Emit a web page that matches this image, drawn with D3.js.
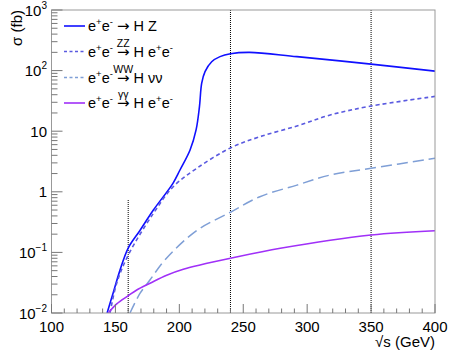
<!DOCTYPE html>
<html>
<head>
<meta charset="utf-8">
<script src="https://cdn.jsdelivr.net/npm/d3@7"></script>
<style>
body { margin: 0; background: #fff; }
text { font-family: "Liberation Sans", Arial, sans-serif; fill: #000; white-space: pre; }
</style>
</head>
<body>
<div id="chart"></div>
<script>
// cross sections (sqrt(s) in GeV, sigma in fb)
var hzE = [143.5, 148.4, 153.6, 160, 169.2, 179.7, 195, 200.5, 208.4, 213.1, 215.7, 217.5, 220.1, 225.3, 231.8, 240, 255, 292, 350, 400]
var hzS = [0.01, 0.022, 0.051, 0.118, 0.23, 0.50, 1.38, 2.29, 4.9, 10.5, 25, 62, 96, 140, 170, 190, 200, 170, 128, 98]
var zzE = [145.8, 151, 160, 179.7, 195, 213.6, 240, 263, 292, 318, 350, 400]
var zzS = [0.01, 0.031, 0.09, 0.44, 1.2, 2.44, 5.3, 8.1, 12.2, 18.5, 26, 37.5]
var wwE = [161.4, 169.2, 177, 188.7, 213.6, 240, 263, 292, 318, 350, 400]
var wwS = [0.01, 0.021, 0.035, 0.075, 0.23, 0.46, 0.83, 1.29, 1.89, 2.44, 3.57]
var aaE = [144.3, 151, 160.1, 166.7, 177.1, 190.1, 203.1, 216.2, 240, 279, 350, 400]
var aaS = [0.0099, 0.0141, 0.0193, 0.024, 0.031, 0.042, 0.0526, 0.062, 0.080, 0.117, 0.194, 0.228]

var markE = [160, 240, 350]
var markTop = [0.75, 1000, 1000]

var xTicks = [100, 150, 200, 250, 300, 350, 400]
var yTicks = [1000, 100, 10, 1, 0.1, 0.01]
var yLabels = [["10", "3"], ["10", "2"], ["10", ""], ["1", ""], ["10", "\u22121"], ["10", "\u22122"]]

var W = 452, H = 358
var x0 = 51.5, x1 = 435, yTop = 10, yBot = 313

var x = d3.scaleLinear().domain([100, 400]).range([x0, x1])
var y = d3.scaleLog().domain([0.01, 1000]).range([yBot, yTop])

var svg = d3.select("#chart").append("svg")
    .attr("width", W)
    .attr("height", H)

svg.append("clipPath").attr("id", "clip")
    .append("rect").attr("x", x0).attr("y", yTop).attr("width", x1 - x0).attr("height", yBot - yTop)

// vertical dotted markers
svg.selectAll(".mark").data(markE)
.enter().append("line")
.attr("class", "mark")
.attr("x1", function(d){return x(d)})
.attr("x2", function(d){return x(d)})
.attr("y1", y(0.01))
.attr("y2", function(d,i){return y(markTop[i])})
.attr("stroke", "#000")
.attr("stroke-width", 1)
.attr("stroke-dasharray", "1,1")

var series = [
    {e: hzE, s: hzS, color: "#1010ff", dash: null, w: 1.6},
    {e: zzE, s: zzS, color: "#5a5ae0", dash: "4,3", w: 1.6},
    {e: wwE, s: wwS, color: "#7f9fd6", dash: "11,5", w: 1.5},
    {e: aaE, s: aaS, color: "#a030f8", dash: null, w: 1.6}
]

var line = d3.line()
    .x(function(d){return x(d[0])})
    .y(function(d){return y(d[1])})
    .curve(d3.curveCatmullRom.alpha(0.5))

var plot = svg.append("g").attr("clip-path", "url(#clip)")
series.forEach(function(c){
    plot.append("path")
    .datum(c.e.map(function(v, i){return [v, c.s[i]]}))
    .attr("d", line)
    .attr("fill", "none")
    .attr("stroke", c.color)
    .attr("stroke-width", c.w)
    .attr("stroke-dasharray", c.dash)
})

// frame
svg.append("rect")
.attr("x", x0).attr("y", yTop).attr("width", x1 - x0).attr("height", yBot - yTop)
.attr("fill", "none").attr("stroke", "#999").attr("stroke-width", 1)

// x ticks (inside, pointing up)
var xMinor = d3.range(100, 401, 10)
svg.selectAll(".xt").data(xMinor)
.enter().append("line")
.attr("class", "xt")
.attr("x1", function(d){return x(d)}).attr("x2", function(d){return x(d)})
.attr("y1", yBot)
.attr("y2", function(d){return d % 50 == 0 ? yBot - 9 : yBot - 4.5})
.attr("stroke", "#777")

svg.selectAll(".xl").data(xTicks)
.enter().append("text")
.attr("class", "xl")
.attr("x", function(d){return x(d)})
.attr("y", 332)
.attr("text-anchor", "middle")
.style("font-size", "15px")
.text(function(d){return d})

// y ticks (inside, pointing right)
var yMinor = []
for (var k = -2; k < 3; k++) {
    for (var m = 1; m < 10; m++) { yMinor.push(m * Math.pow(10, k)) }
}
yMinor.push(1000)
svg.selectAll(".yt").data(yMinor)
.enter().append("line")
.attr("class", "yt")
.attr("x1", x0)
.attr("x2", function(d){var l = Math.log10(d); return Math.abs(l - Math.round(l)) < 1e-9 ? x0 + 11 : x0 + 6})
.attr("y1", function(d){return y(d)}).attr("y2", function(d){return y(d)})
.attr("stroke", "#777")

var yl = svg.selectAll(".yl").data(yTicks)
.enter().append("text")
.attr("class", "yl")
.attr("x", 47)
.attr("y", function(d){return y(d) + 5.5})
.attr("text-anchor", "end")
.style("font-size", "15px")
yl.append("tspan").text(function(d,i){return yLabels[i][0]})
yl.append("tspan")
.attr("dy", -7)
.style("font-size", "10px")
.text(function(d,i){return yLabels[i][1]})

// axis titles
svg.append("text")
.attr("transform", "translate(22,10) rotate(-90)")
.attr("text-anchor", "end")
.style("font-size", "15px")
.text("\u03c3 (fb)")

svg.append("text")
.attr("x", x1)
.attr("y", 347)
.attr("text-anchor", "end")
.style("font-size", "15px")
.text("\u221as (GeV)")

// legend
var legendNames = [
    [["e"], ["+", "sup"], ["e"], ["-", "sup"], [" "], ["\u2192", "arrow", ""], [" H Z"]],
    [["e"], ["+", "sup"], ["e"], ["-", "sup"], [" "], ["\u2192", "arrow", "ZZ"], [" H e"], ["+", "sup"], ["e"], ["-", "sup"]],
    [["e"], ["+", "sup"], ["e"], ["-", "sup"], [" "], ["\u2192", "arrow", "WW"], [" H \u03bd\u03bd"]],
    [["e"], ["+", "sup"], ["e"], ["-", "sup"], [" "], ["\u2192", "arrow", "\u03b3\u03b3"], [" H e"], ["+", "sup"], ["e"], ["-", "sup"]]
]
var legendY = [26, 51.5, 77.5, 103]

legendNames.forEach(function(parts, i){
    var c = series[i]
    svg.append("line")
    .attr("x1", 64).attr("x2", 85)
    .attr("y1", legendY[i]).attr("y2", legendY[i])
    .attr("stroke", c.color)
    .attr("stroke-width", c.w)
    .attr("stroke-dasharray", c.dash ? "3,2.5" : null)

    var px = 88
    var base = legendY[i] + 5
    parts.forEach(function(p){
        var t = svg.append("text")
        .attr("x", px)
        .attr("y", p[1] == "sup" ? base - 6 : base)
        .style("font-size", p[1] == "sup" ? "9.5px" : "14.5px")
        var s = t.append("tspan")
        .style("font-size", p[1] == "arrow" ? "15px" : null)
        .style("font-family", p[1] == "arrow" ? "'DejaVu Sans'" : null)
        .text(p[0])
        var w = s.node().getComputedTextLength()
        if (p[1] == "arrow" && p[2]) {
            // process label sits on top of the arrow, same text element
            t.append("tspan")
            .attr("x", px + w / 2)
            .attr("y", base - 10)
            .attr("text-anchor", "middle")
            .style("font-size", "10.5px")
            .text(p[2])
        }
        px = px + w
    })
})
</script>
</body>
</html>
